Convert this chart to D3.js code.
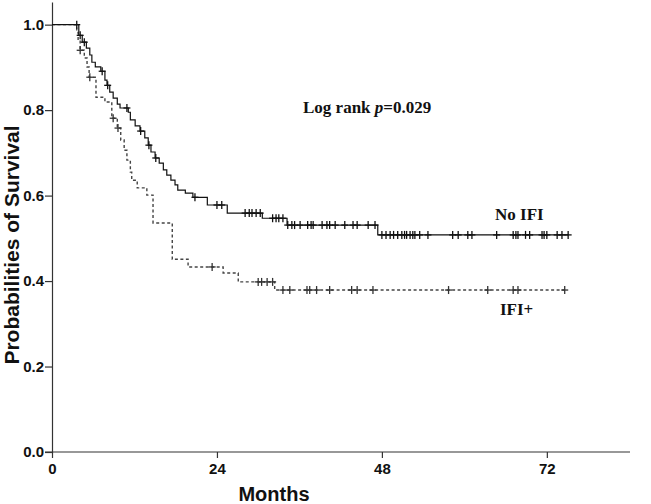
<!DOCTYPE html>
<html>
<head>
<meta charset="utf-8">
<script src="https://cdn.jsdelivr.net/npm/d3@7"></script>
<style>
  body { margin: 0; background: #fff; }
  svg { display: block; }
</style>
</head>
<body>
<script>
// Kaplan-Meier curves
var xTicks = [0, 24, 48, 72];
var yTicks = [0.0, 0.2, 0.4, 0.6, 0.8, 1.0];

// No IFI (solid): event times (months) and survival after each event
var noIfiTimes = [3.9, 4.4, 5.0, 5.5, 5.8, 6.3, 7.1, 7.7, 8.0, 8.4, 8.9, 9.5, 9.9, 11.1, 11.4, 12.1, 12.8, 13.5, 14.0, 14.4, 15.0, 15.6, 16.2, 16.7, 17.3, 17.9, 18.3, 19.4, 20.5, 22.6, 25.5, 30.6, 34.2, 47.4];
var noIfiSurv  = [0.975, 0.959, 0.945, 0.929, 0.912, 0.901, 0.891, 0.870, 0.858, 0.842, 0.828, 0.814, 0.805, 0.795, 0.777, 0.763, 0.751, 0.735, 0.718, 0.702, 0.688, 0.676, 0.660, 0.648, 0.636, 0.625, 0.613, 0.606, 0.596, 0.578, 0.559, 0.547, 0.531, 0.508];
var noIfiCensored = [3.6, 4.1, 4.7, 7.3, 8.1, 10.9, 12.9, 14.1, 15.1, 20.8, 24.0, 24.7, 28.1, 28.7, 29.1, 29.7, 30.3, 32.1, 32.6, 33.0, 33.6, 34.3, 34.9, 35.3, 36.1, 37.2, 37.7, 38.0, 39.3, 40.0, 40.4, 41.2, 42.6, 43.8, 44.4, 46.0, 47.0, 48.0, 48.6, 49.2, 49.7, 50.3, 50.9, 51.3, 51.6, 52.1, 52.5, 52.8, 53.5, 54.7, 58.3, 59.1, 60.5, 61.1, 64.7, 67.1, 67.5, 67.8, 68.9, 69.5, 71.3, 71.6, 72.0, 73.5, 74.2, 75.1];

// IFI+ (dashed)
var ifiTimes = [3.6, 3.8, 4.1, 4.7, 5.1, 5.4, 6.4, 7.7, 8.7, 9.5, 10.0, 10.5, 10.9, 11.4, 11.6, 12.4, 13.8, 14.7, 17.5, 19.8, 24.9, 27.1, 32.4];
var ifiSurv  = [0.982, 0.964, 0.940, 0.922, 0.901, 0.877, 0.830, 0.819, 0.781, 0.758, 0.730, 0.706, 0.683, 0.655, 0.636, 0.618, 0.601, 0.536, 0.451, 0.433, 0.419, 0.398, 0.379];
var ifiCensored = [4.1, 5.5, 8.9, 9.6, 23.3, 30.0, 30.5, 31.3, 32.1, 33.6, 34.6, 37.1, 37.5, 38.5, 40.4, 43.6, 44.4, 46.7, 57.7, 63.4, 67.1, 67.8, 74.6];

var width = 651, height = 504;
var svg = d3.select('body').append('svg')
  .attr('width', width)
  .attr('height', height);

var x = d3.scaleLinear().domain([0, 84.1]).range([52, 630]);
var y = d3.scaleLinear().domain([0, 1.053]).range([452, 2]);

var survAt = function(times, surv, t) {
  var s = 1;
  for (var i = 0; i < times.length; i++) {
    if (times[i] <= t) s = surv[i];
  }
  return s;
};

var stepPoints = function(times, surv, censored) {
  var pts = [[0, 1]];
  for (var i = 0; i < times.length; i++) pts.push([times[i], surv[i]]);
  var last = d3.max(censored);
  pts.push([last, surv[surv.length - 1]]);
  return pts;
};

var line = d3.line()
  .x(function(d) { return x(d[0]); })
  .y(function(d) { return y(d[1]); })
  .curve(d3.curveStepAfter);

// axes
var axisColor = '#333';
var xAxis = svg.append('g')
  .attr('transform', 'translate(0,' + y(0) + ')')
  .call(d3.axisBottom(x).tickValues(xTicks).tickSize(6).tickSizeOuter(0).tickFormat(d3.format('d')));
var yAxis = svg.append('g')
  .attr('transform', 'translate(' + x(0) + ',0)')
  .call(d3.axisLeft(y).tickValues(yTicks).tickSize(7).tickSizeOuter(0).tickFormat(d3.format('.1f')));

[xAxis, yAxis].forEach(function(a) {
  a.select('.domain').attr('stroke', axisColor).attr('stroke-width', 1.2);
  a.selectAll('.tick line').attr('stroke', axisColor).attr('stroke-width', 1.2);
  a.selectAll('.tick text')
    .attr('fill', '#111')
    .style('font-family', '"Liberation Sans Narrow", "Arial Narrow", "Liberation Sans", sans-serif')
    .style('font-stretch', 'condensed')
    .style('font-weight', 'bold')
    .style('font-size', '15px');
});
// the x axis line also covers the 0.0 tick on the left
xAxis.select('.domain').attr('d', 'M' + (x(0) - 7) + ',0H' + x(84.1));
xAxis.selectAll('.tick text').attr('dy', '0.85em');
yAxis.selectAll('.tick text').attr('x', -8);

// curves
svg.append('path')
  .attr('d', line(stepPoints(ifiTimes, ifiSurv, ifiCensored)))
  .attr('fill', 'none')
  .attr('stroke', '#444')
  .attr('stroke-width', 1.4)
  .attr('stroke-dasharray', '3,2.5');

svg.append('path')
  .attr('d', line(stepPoints(noIfiTimes, noIfiSurv, noIfiCensored)))
  .attr('fill', 'none')
  .attr('stroke', '#111')
  .attr('stroke-width', 1.2);

// censor marks
var drawCensors = function(cls, times, surv, censored, color) {
  var g = svg.selectAll('.' + cls).data(censored).enter().append('g')
    .attr('class', cls)
    .attr('transform', function(d) {
      return 'translate(' + x(d) + ',' + y(survAt(times, surv, d)) + ')';
    });
  g.append('line').attr('x1', 0).attr('x2', 0).attr('y1', -4).attr('y2', 4)
    .attr('stroke', color).attr('stroke-width', 1.3);
  g.append('line').attr('x1', -3.5).attr('x2', 3.5).attr('y1', 0).attr('y2', 0)
    .attr('stroke', color).attr('stroke-width', 1.3);
};
drawCensors('c-ifi', ifiTimes, ifiSurv, ifiCensored, '#333');
drawCensors('c-noifi', noIfiTimes, noIfiSurv, noIfiCensored, '#111');

// axis titles
svg.append('text')
  .attr('x', 274).attr('y', 501)
  .attr('text-anchor', 'middle')
  .style('font-family', '"Liberation Sans", Arial, sans-serif')
  .style('font-weight', 'bold')
  .style('font-size', '20px')
  .attr('fill', '#111')
  .text('Months');

svg.append('text')
  .attr('transform', 'translate(19,245) rotate(-90)')
  .attr('text-anchor', 'middle')
  .style('font-family', '"Liberation Sans", Arial, sans-serif')
  .style('font-weight', 'bold')
  .style('font-size', '21px')
  .attr('fill', '#111')
  .text('Probabilities of Survival');

// annotations
var serif = '"Liberation Serif", "Times New Roman", serif';
var logrank = svg.append('text')
  .attr('x', 303).attr('y', 113)
  .style('font-family', serif)
  .style('font-weight', 'bold')
  .style('font-size', '17px')
  .attr('fill', '#111');
logrank.append('tspan').text('Log rank ');
logrank.append('tspan').style('font-style', 'italic').text('p');
logrank.append('tspan').text('=0.029');

svg.append('text')
  .attr('x', 495).attr('y', 220)
  .style('font-family', serif)
  .style('font-weight', 'bold')
  .style('font-size', '17px')
  .attr('fill', '#111')
  .text('No IFI');

svg.append('text')
  .attr('x', 500).attr('y', 315)
  .style('font-family', serif)
  .style('font-weight', 'bold')
  .style('font-size', '17px')
  .attr('fill', '#111')
  .text('IFI+');
</script>
</body>
</html>
